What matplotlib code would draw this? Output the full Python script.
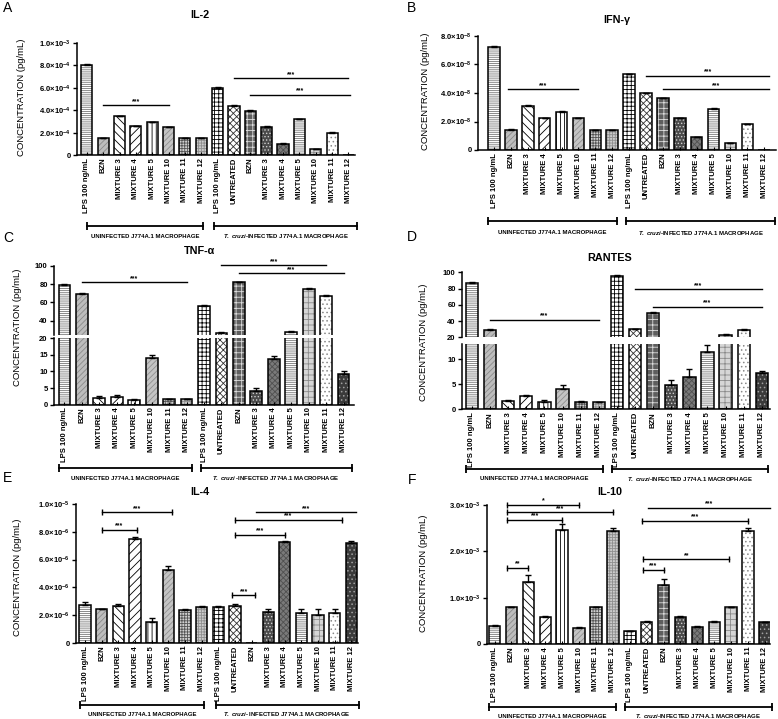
import numpy as np
import matplotlib
matplotlib.use('Agg')
import matplotlib.pyplot as plt
from matplotlib import transforms

plt.rcParams['font.family'] = ['Liberation Sans', 'DejaVu Sans']
plt.rcParams['mathtext.fontset'] = 'custom'
plt.rcParams['mathtext.rm'] = 'Liberation Sans:bold'
plt.rcParams['mathtext.it'] = 'Liberation Sans:italic:bold'
plt.rcParams['mathtext.bf'] = 'Liberation Sans:bold'
plt.rcParams['hatch.linewidth'] = 0.6

W, H = 778, 719

# --- data ---
labels = ['LPS 100 ng/mL', 'BZN', 'MIXTURE 3', 'MIXTURE 4', 'MIXTURE 5', 'MIXTURE 10',
          'MIXTURE 11', 'MIXTURE 12', 'LPS 100 ng/mL', 'UNTREATED', 'BZN', 'MIXTURE 3',
          'MIXTURE 4', 'MIXTURE 5', 'MIXTURE 10', 'MIXTURE 11', 'MIXTURE 12']

il2_vals = np.array([8.0, 1.5, 3.45, 2.55, 2.95, 2.5, 1.5, 1.5, 6.0, 4.4, 3.95, 2.5, 1.0, 3.2, 0.55, 2.0, 0]) * 1e-4
il2_err = np.array([0.15, 0.05, 0.06, 0.05, 0.04, 0.03, 0.04, 0.04, 0.05, 0.04, 0.06, 0.05, 0.03, 0.03, 0.03, 0.06, 0]) * 1e-4

ifn_vals = np.array([7.2, 1.4, 3.1, 2.22, 2.7, 2.22, 1.4, 1.4, 5.3, 3.98, 3.62, 2.22, 0.9, 2.88, 0.47, 1.8, 0]) * 1e-8
ifn_err = np.array([0.12, 0.04, 0.04, 0.03, 0.04, 0.03, 0.03, 0.03, 0.04, 0.03, 0.04, 0.04, 0.03, 0.05, 0.03, 0.05, 0]) * 1e-8

tnf_vals = np.array([79, 69.5, 1.9, 2.4, 1.5, 14.1, 1.6, 1.6, 56, 26.5, 82, 4.1, 13.7, 28, 74.5, 67.5, 9.2])
tnf_err = np.array([0.6, 0.6, 0.6, 0.4, 0.3, 0.8, 0.2, 0.2, 1.2, 0.8, 0.7, 0.8, 0.9, 1.0, 0.8, 0.3, 0.8])

rantes_vals = np.array([87, 29.4, 1.65, 2.65, 1.55, 4.1, 1.55, 1.45, 96, 29.8, 50.5, 4.9, 6.5, 11.5, 23.2, 29.2, 7.2])
rantes_err = np.array([0.8, 0.8, 0.15, 0.15, 0.4, 0.65, 0.15, 0.1, 0.8, 0.8, 0.8, 1.0, 1.5, 1.3, 0.6, 0.6, 0.5])

il4_vals = np.array([2.7, 2.45, 2.65, 7.45, 1.5, 5.22, 2.4, 2.58, 2.6, 2.65, 0, 2.25, 7.28, 2.18, 1.98, 2.18, 7.18]) * 1e-6
il4_err = np.array([0.26, 0.02, 0.19, 0.17, 0.31, 0.3, 0.03, 0.1, 0.07, 0.19, 0, 0.22, 0.05, 0.29, 0.46, 0.29, 0.15]) * 1e-6

il10_vals = np.array([0.38, 0.79, 1.33, 0.59, 2.47, 0.35, 0.79, 2.43, 0.27, 0.48, 1.28, 0.59, 0.36, 0.48, 0.79, 2.43, 0.47]) * 1e-3
il10_err = np.array([0.02, 0.01, 0.17, 0.01, 0.13, 0.01, 0.01, 0.08, 0.01, 0.02, 0.13, 0.01, 0.03, 0.01, 0.01, 0.08, 0.01]) * 1e-3

# bar fill styles: (face, hatch, hatch colour)
styles = [
    ('white', '--------', '#777777'),
    ('#bdbdbd', '//////', '#8a8a8a'),
    ('white', '\\\\\\\\', 'black'),
    ('white', '////', 'black'),
    ('white', '||||', 'black'),
    ('#c4c4c4', '//////', '#909090'),
    ('#d0d0d0', '++++++', '#555555'),
    ('#cccccc', '++++++', '#8f8f8f'),
    ('white', '++++', 'black'),
    ('white', 'xxxxx', '#333333'),
    ('#5e5e5e', '+++', '#dddddd'),
    ('#4a4a4a', '.....', '#cfcfcf'),
    ('#7a7a7a', 'xxxxxx', '#505050'),
    ('white', '--------', '#777777'),
    ('#d6d6d6', '+++', '#8a8a8a'),
    ('white', '....', '#8a8a8a'),
    ('#3a3a3a', '....', '#a0a0a0'),
]

UNIN = 'UNINFECTED J774A.1 MACROPHAGE'

fig = plt.figure(figsize=(W / 100, H / 100), dpi=100)


def fx(px):
    return px / W


def fy(py):
    return 1 - py / H


def add_ax(left, right, top, bottom):
    return fig.add_axes([fx(left), fy(bottom), fx(right - left), (bottom - top) / H])


def draw_bars(ax, vals, errs):
    x = np.arange(len(vals))
    for i in range(len(vals)):
        fc, hatch, hc = styles[i]
        ax.bar(x[i], vals[i], width=0.68, color=fc, edgecolor=hc, hatch=hatch, linewidth=0)
    ax.bar(x, vals, width=0.68, facecolor='none', edgecolor='black', linewidth=1.1)
    ok = vals > 0
    ax.errorbar(x[ok], vals[ok], yerr=[np.zeros(ok.sum()), errs[ok]], fmt='none',
                ecolor='black', elinewidth=1.0, capsize=2.3, capthick=1.0)


def style_ax(ax, bottom=True):
    for s in ['top', 'right']:
        ax.spines[s].set_visible(False)
    ax.spines['left'].set_linewidth(1.1)
    ax.spines['bottom'].set_linewidth(1.1)
    ax.tick_params(axis='y', length=3, width=1, labelsize=5.5, pad=1.5)
    if bottom:
        ax.set_xticks(np.arange(17))
        ax.set_xticklabels(labels, rotation=90, fontsize=5.5, fontweight='bold')
        ax.tick_params(axis='x', direction='in', length=2, width=0.8, pad=2)
    else:
        ax.spines['bottom'].set_visible(False)
        ax.set_xticks([])
    for t in ax.get_yticklabels():
        t.set_fontweight('bold')


def sig(ax, x0, x1, y, txt, caps=False):
    ax.plot([x0, x1], [y, y], color='black', lw=1.0, marker='|' if caps else None,
            ms=4, mew=1.0, clip_on=False)
    ax.annotate(txt, xy=((x0 + x1) / 2, y), xytext=(0, 0.2), textcoords='offset points',
                ha='center', va='bottom', fontsize=5, fontweight='bold', annotation_clip=False)


def groups(ax, unin_span, inf_span, ypx, typx, inf_label):
    tr = transforms.blended_transform_factory(ax.transData, fig.transFigure)
    for (x0, x1), lab in [(unin_span, UNIN), (inf_span, inf_label)]:
        ax.plot([x0, x1], [fy(ypx), fy(ypx)], transform=tr, color='black', lw=1.3,
                marker='|', ms=6, mew=1.3, clip_on=False)
        ax.text((x0 + x1) / 2, fy(typx), lab, transform=tr, ha='center', va='center',
                fontsize=4.3, fontweight='bold')


def titles(letter, lpx, lpy, title, tpx, tpy, ylx, yly):
    fig.text(fx(lpx), fy(lpy), letter, fontsize=10, ha='center', va='center')
    fig.text(fx(tpx), fy(tpy), title, fontsize=7.8, fontweight='bold', ha='center', va='center')
    fig.text(fx(ylx), fy(yly), 'CONCENTRATION (pg/mL)', fontsize=6.8, rotation=90,
             ha='center', va='center')


def sci(vals, mant, exps):
    out = ['0']
    for m, e in zip(mant, exps):
        out.append(r'%s$\times$10$^{%d}$' % (m, e))
    return out


# ---------- A: IL-2 ----------
ax = add_ax(77, 355, 43, 155)
draw_bars(ax, il2_vals, il2_err)
ax.set_ylim(0, 1e-3)
ax.set_xlim(-0.6, 16.4)
ax.set_yticks(np.arange(0, 1.01e-3, 2e-4))
ax.set_yticklabels(sci(None, ['2.0', '4.0', '6.0', '8.0', '1.0'], [-4, -4, -4, -4, -3]))
style_ax(ax)
sig(ax, 1, 5, 4.44e-4, '***')
sig(ax, 9, 16, 6.85e-4, '***')
sig(ax, 10, 16.1, 5.4e-4, '***')
groups(ax, (0.0, 7.1), (7.8, 16.5), 226, 236, r'$T.\ cruzi$-INFECTED J774A.1 MACROPHAGE')
ax.set_xlim(-0.6, 16.4)
titles('A', 8, 8, 'IL-2', 200, 15, 22, 97)

# ---------- B: IFN-gamma ----------
ax = add_ax(478, 776, 36, 150)
draw_bars(ax, ifn_vals, ifn_err)
ax.set_ylim(0, 8e-8)
ax.set_yticks(np.arange(0, 8.01e-8, 2e-8))
ax.set_yticklabels(sci(None, ['2.0', '4.0', '6.0', '8.0'], [-8, -8, -8, -8]))
style_ax(ax)
sig(ax, 0.8, 5, 4.26e-8, '***')
sig(ax, 9, 16.3, 5.2e-8, '***')
sig(ax, 10, 16.3, 4.26e-8, '***')
groups(ax, (-0.37, 7.3), (7.84, 16.64), 221, 233, r'$T.\ cruzi$-INFECTED J774A.1 MACROPHAGE')
ax.set_xlim(-0.95, 16.7)
titles('B', 412, 8, 'IFN-γ', 617, 20, 425, 91)

# ---------- C: TNF-alpha (split axis) ----------
axu = add_ax(54, 354, 265.7, 334.5)
axl = add_ax(54, 354, 338, 404.7)
for a in (axu, axl):
    draw_bars(a, tnf_vals, tnf_err)
axu.set_ylim(25, 100)
axu.set_yticks([40, 60, 80, 100])
axl.set_ylim(0, 20)
axl.set_yticks([0, 5, 10, 15, 20])
style_ax(axu, bottom=False)
style_ax(axl)
sig(axu, 1, 7, 82.2, '***')
sig(axu, 9, 15, 100.5, '***')
sig(axu, 10, 16, 91.7, '***')
groups(axl, (-0.29, 7.3), (7.83, 16.46), 468, 478, r'$T.\ cruzi$ -INFECTED J774A.1 MACROPHAGE')
for a in (axu, axl):
    a.set_xlim(-0.6, 16.6)
titles('C', 8, 238, 'TNF-α', 200, 251, 18, 327)

# ---------- D: RANTES (split axis) ----------
axu = add_ax(462, 770, 272.3, 337.3)
axl = add_ax(462, 770, 344, 409.3)
for a in (axu, axl):
    draw_bars(a, rantes_vals, rantes_err)
axu.set_ylim(20, 100)
axu.set_yticks([20, 40, 60, 80, 100])
axl.set_ylim(0, 13)
axl.set_yticks([0, 5, 10])
style_ax(axu, bottom=False)
style_ax(axl)
sig(axu, 1, 7, 41.3, '***')
sig(axu, 9, 16, 79, '***')
sig(axu, 10, 16, 57.7, '***')
groups(axl, (-0.31, 7.22), (7.71, 16.33), 469, 479, r'$T.\ cruzi$-INFECTED J774A.1 MACROPHAGE')
for a in (axu, axl):
    a.set_xlim(-0.55, 16.45)
titles('D', 412, 237, 'RANTES', 610, 258, 423, 342)

# ---------- E: IL-4 ----------
ax = add_ax(76, 358, 504, 643)
draw_bars(ax, il4_vals, il4_err)
ax.set_ylim(0, 1e-5)
ax.set_yticks(np.arange(0, 1.01e-5, 2e-6))
ax.set_yticklabels(sci(None, ['2.0', '4.0', '6.0', '8.0', '1.0'], [-6, -6, -6, -6, -5]))
style_ax(ax)
sig(ax, 1, 5.2, 9.42e-6, '***', caps=True)
sig(ax, 1, 3.1, 8.15e-6, '***', caps=True)
sig(ax, 10.25, 16.3, 9.42e-6, '***')
sig(ax, 9, 15.45, 8.87e-6, '***', caps=True)
sig(ax, 9, 12, 7.79e-6, '***', caps=True)
sig(ax, 8.85, 10.2, 3.43e-6, '***', caps=True)
groups(ax, (-0.3, 7.14), (7.86, 16.44), 705, 714, r'$T.\ cruzi$- INFECTED J774A.1 MACROPHAGE')
ax.set_xlim(-0.55, 16.4)
titles('E', 8, 478, 'IL-4', 200, 492, 18, 577)

# ---------- F: IL-10 ----------
ax = add_ax(487, 770, 505, 644)
draw_bars(ax, il10_vals, il10_err)
ax.set_ylim(0, 3e-3)
ax.set_yticks(np.arange(0, 3.01e-3, 1e-3))
ax.set_yticklabels(sci(None, ['1.0', '2.0', '3.0'], [-3, -3, -3]))
style_ax(ax)
sig(ax, 0.75, 5, 3.01e-3, '*', caps=True)
sig(ax, 0.75, 7, 2.84e-3, '***', caps=True)
sig(ax, 0.75, 4, 2.68e-3, '***', caps=True)
sig(ax, 0.75, 2, 1.65e-3, '**', caps=True)
sig(ax, 9.05, 16.3, 2.94e-3, '***')
sig(ax, 8.75, 15, 2.66e-3, '***', caps=True)
sig(ax, 8.8, 13.9, 1.83e-3, '**', caps=True)
sig(ax, 8.8, 10, 1.6e-3, '***', caps=True)
groups(ax, (-0.35, 7.2), (7.73, 16.4), 707, 716.5, r'$T.\ cruzi$-INFECTED J774A.1 MACROPHAGE')
ax.set_xlim(-0.45, 16.3)
titles('F', 412, 480, 'IL-10', 610, 492, 423, 573)

fig.savefig('out.png', dpi=100, facecolor='white')
